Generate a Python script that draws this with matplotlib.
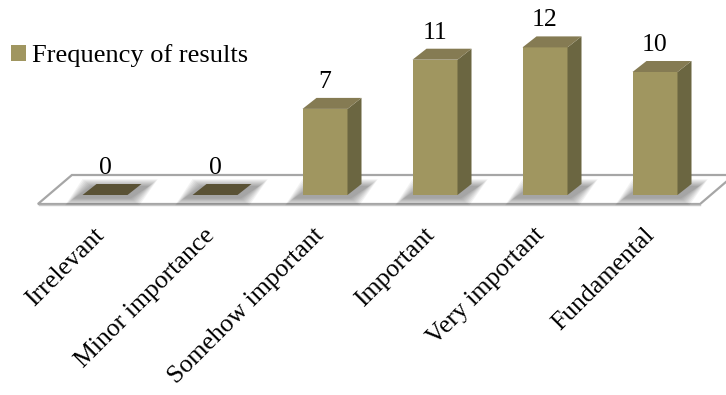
import matplotlib
matplotlib.use("Agg")
import matplotlib.pyplot as plt
from matplotlib.patches import Polygon, Patch

plt.rcParams["font.family"] = ["Liberation Serif", "DejaVu Serif"]

categories = ["Irrelevant", "Minor importance", "Somehow important",
              "Important", "Very important", "Fundamental"]
frequencies = [0, 0, 7, 11, 12, 10]
series_name = "Frequency of results"

FRONT = "#A09660"
SIDE = "#6B6641"
TOP = "#857B53"
ZERO_TOP = "#5A5235"
FLOOR_EDGE = "#A6A6A6"

W, H = 726, 395
fig = plt.figure(figsize=(W / 100, H / 100), dpi=100)
ax = fig.add_axes([0, 0, 1, 1])

# data scale: one category = 110 px, one unit = 12.3 px, baseline at 195 px
px_x, px_y = 110.0, 12.3
x0_px, base_px = 105.0, 195.0
ax.set_xlim(-x0_px / px_x, (W - x0_px) / px_x)
ax.set_ylim((base_px - H) / px_y, base_px / px_y)
ax.axis("off")

bar_w = 45 / px_x
dx, dy = 14 / px_x, 11 / px_y

# floor plate
fl_front, fl_back = -9 / px_y, 20 / px_y
fl_left = -0.61
fl_right = 5.41
shift = 34 / px_x
floor = Polygon([(fl_left, fl_front), (fl_right, fl_front),
                 (fl_right + shift, fl_back), (fl_left + shift, fl_back)],
                closed=True, facecolor="white", edgecolor=FLOOR_EDGE,
                linewidth=1.6, zorder=1)
ax.add_patch(floor)
ax.plot([fl_left + 0.01, fl_right], [fl_front - 0.12, fl_front - 0.12],
        color="#C8C8C8", linewidth=1.0, zorder=1)

for i, v in enumerate(frequencies):
    xl = i - bar_w / 2
    xr = i + bar_w / 2
    # soft shadow on the floor
    for k in range(8):
        m = 0.011 * (8 - k)
        mh = 0.08 * (8 - k)
        sh = Polygon([(xl - 0.07 - m, -0.2 - mh), (xr + 0.02 + m, -0.2 - mh),
                      (xr + dx + 0.06 + m, dy - 0.25 + mh),
                      (xl + dx - 0.04 - m, dy - 0.25 + mh)],
                     closed=True, facecolor="#000000", edgecolor="none",
                     alpha=0.05, zorder=2)
        ax.add_patch(sh)
    if v == 0:
        ax.add_patch(Polygon([(xl, 0), (xr, 0), (xr + dx, dy), (xl + dx, dy)],
                             closed=True, facecolor=ZERO_TOP, edgecolor="none",
                             zorder=3))
        top_y = 0
    else:
        ax.bar(i, v, width=bar_w, bottom=0, color=FRONT, zorder=4,
               linewidth=0)
        ax.add_patch(Polygon([(xr, 0), (xr + dx, dy), (xr + dx, v + dy), (xr, v)],
                             closed=True, facecolor=SIDE, edgecolor="none",
                             zorder=4))
        ax.add_patch(Polygon([(xl, v), (xr, v), (xr + dx, v + dy), (xl + dx, v + dy)],
                             closed=True, facecolor=TOP, edgecolor="none",
                             zorder=4))
        top_y = v
    ax.text(i, top_y + 27 / px_y, str(v), ha="center", va="center",
            fontsize=18.5, color="black", zorder=5)

# category labels below the floor, ending under each bar
for i, name in enumerate(categories):
    lx = i - 12 / px_x
    ly = (base_px - 224) / px_y
    ax.text(lx, ly, name, rotation=45, rotation_mode="anchor",
            ha="right", va="top", fontsize=18.5, color="black")

handle = Patch(facecolor=FRONT, edgecolor="none")
fig.legend([handle], [series_name], loc="center left",
           bbox_to_anchor=(11 / W, 1 - 56 / H), frameon=False,
           fontsize=19, handlelength=0.55, handleheight=0.55,
           handletextpad=0.25, borderpad=0, borderaxespad=0)

fig.savefig("out.png", dpi=100)
